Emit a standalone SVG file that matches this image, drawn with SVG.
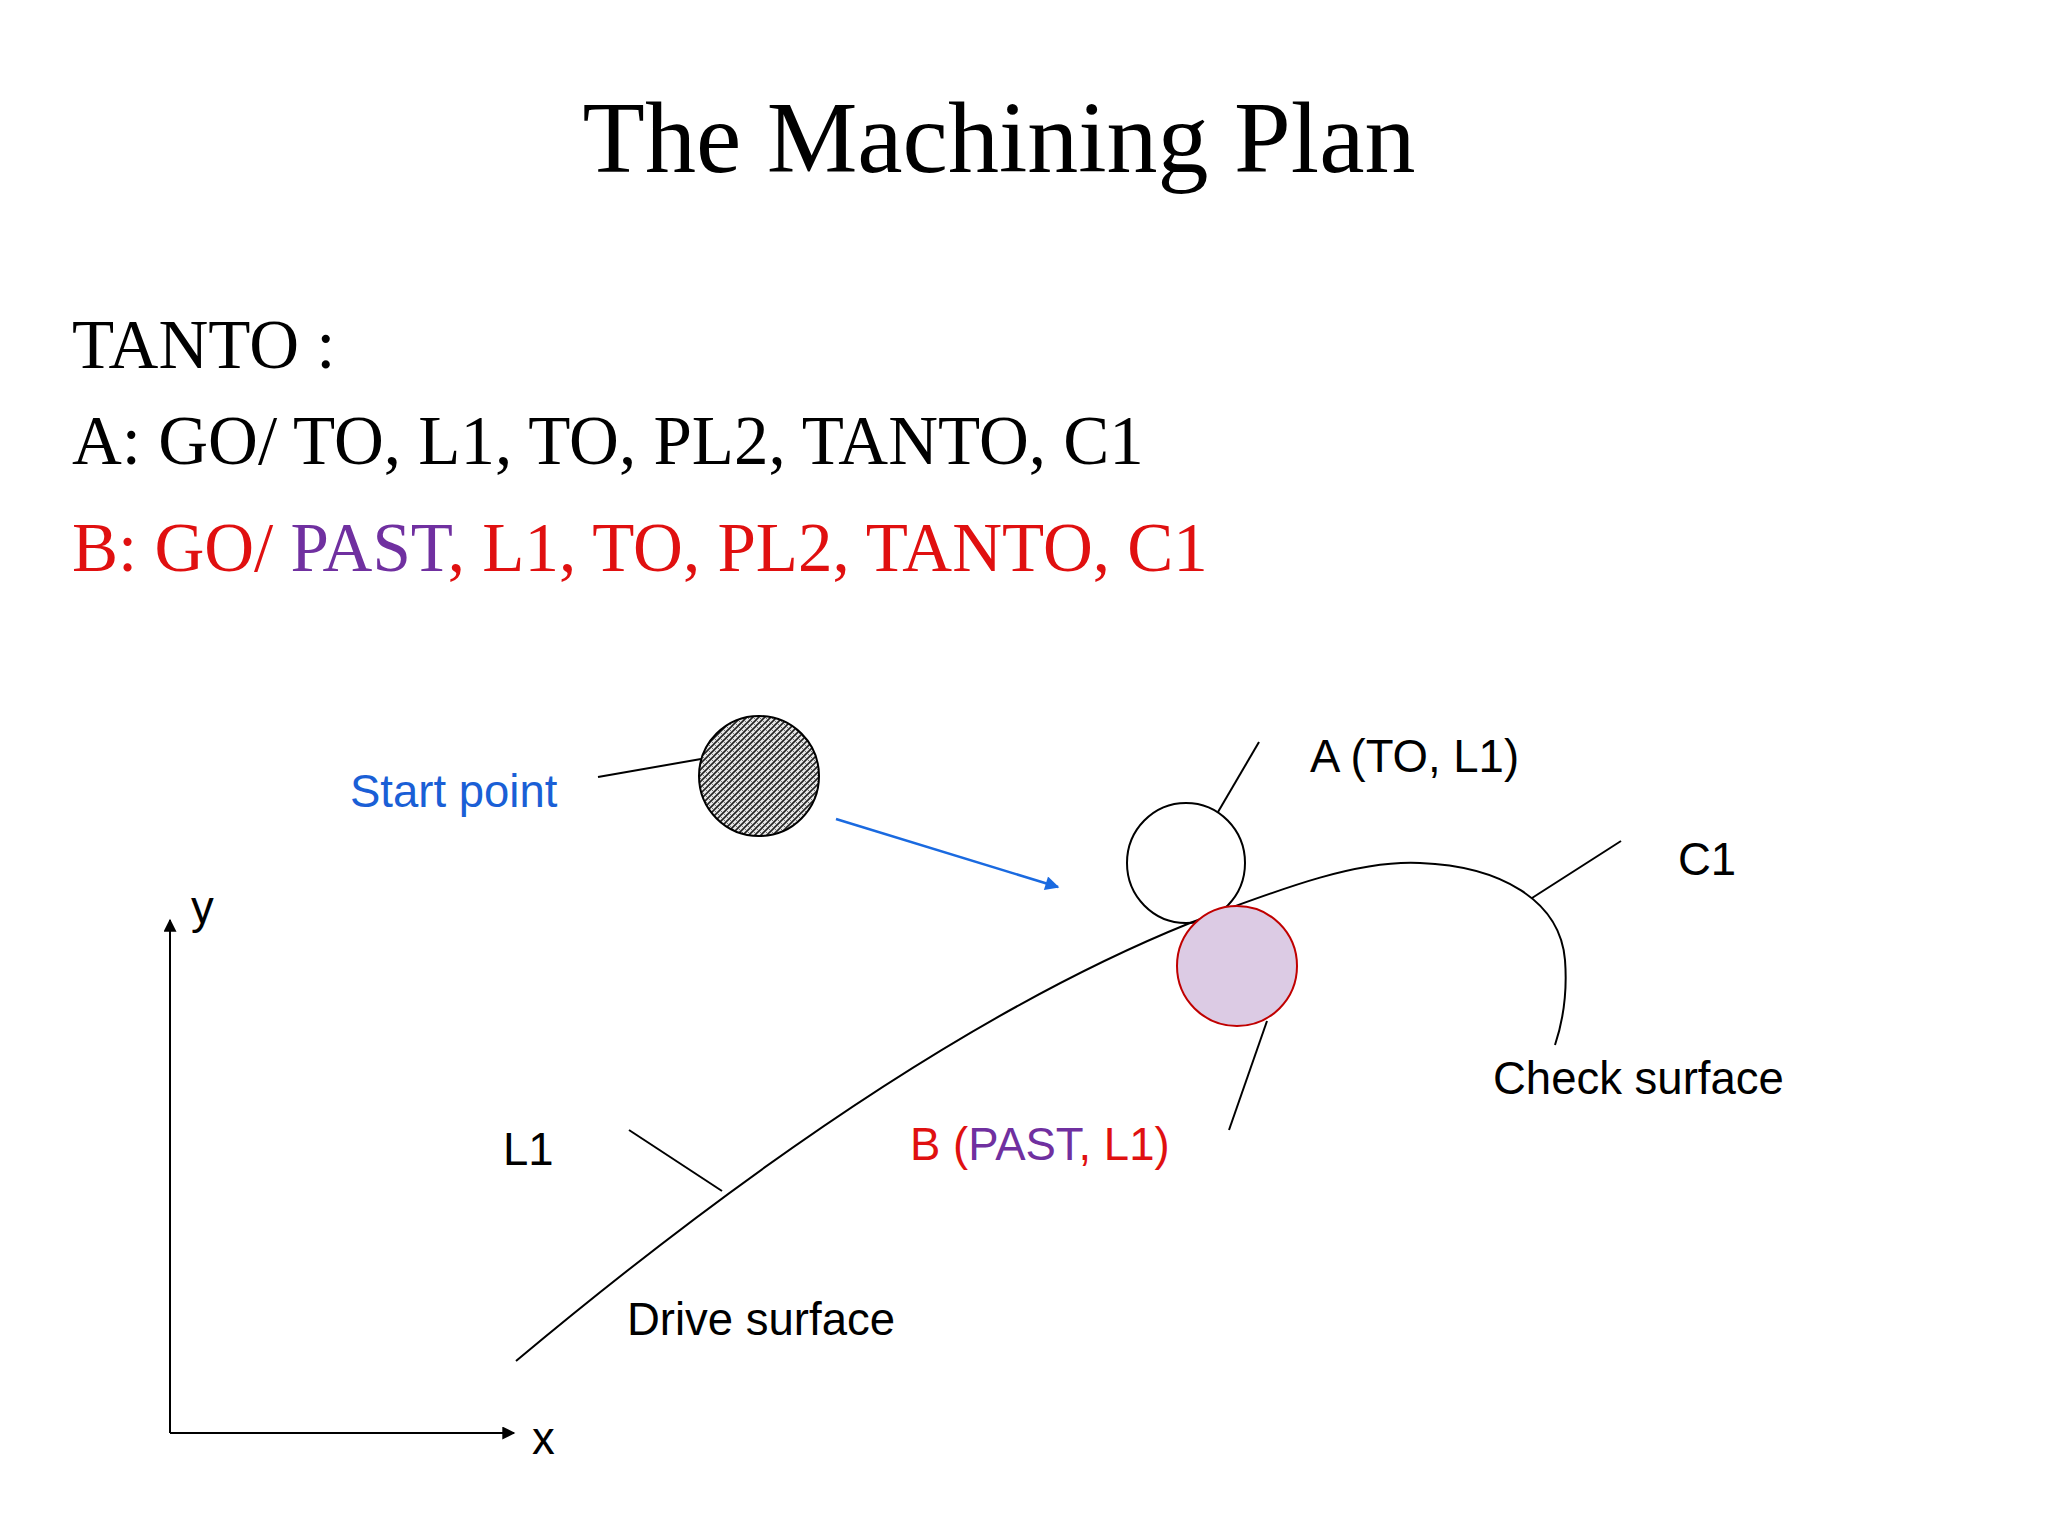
<svg xmlns="http://www.w3.org/2000/svg" width="2048" height="1536" viewBox="0 0 2048 1536">
<style>
.serif{font-family:"Liberation Serif","Times New Roman",serif}
.sans{font-family:"Liberation Sans",Arial,sans-serif;font-size:45.5px}
.ln{stroke:#000;stroke-width:2;fill:none}
</style>
<defs>
<pattern id="hatch" width="6" height="6" patternUnits="userSpaceOnUse">
<rect width="6" height="6" fill="#e8e8e8"/>
<path d="M0,6 L6,0 M-1,1 L1,-1 M5,7 L7,5" stroke="#222" stroke-width="1.6"/>
<path d="M0,0 L6,6" stroke="#555" stroke-width="0.8"/>
</pattern>
<marker id="abl" viewBox="0 0 10 10" refX="9" refY="5" markerWidth="20" markerHeight="14" orient="auto" markerUnits="userSpaceOnUse"><path d="M0,0 L10,5 L0,10 z" fill="#1a6ae0"/></marker>
<marker id="abk" viewBox="0 0 10 10" refX="9" refY="5" markerWidth="16" markerHeight="13" orient="auto" markerUnits="userSpaceOnUse"><path d="M0,0 L10,5 L0,10 z" fill="#000"/></marker>
</defs>
<rect width="2048" height="1536" fill="#fff"/>
<text class="serif" x="999" y="172" font-size="102" text-anchor="middle">The Machining Plan</text>
<text class="serif" x="72" y="368" font-size="69">TANTO :</text>
<text class="serif" x="72" y="464" font-size="69">A: GO/ TO, L1, TO, PL2, TANTO, C1</text>
<text class="serif" x="72" y="571" font-size="69" fill="#e01010">B: GO/ <tspan fill="#7030a0">PAST</tspan>, L1, TO, PL2, TANTO, C1</text>

<g id="connectors">
<path id="drive-surface" class="ln" d="M516,1361 Q900,1040 1190,923 C1290,885 1360,860 1420,863 C1500,866 1560,900 1565,960 C1568,1000 1560,1030 1555,1045"/>
<line class="ln" x1="598" y1="777" x2="701" y2="759"/>
<line x1="836" y1="819" x2="1058" y2="887" stroke="#1a6ae0" stroke-width="2.5" marker-end="url(#abl)"/>
<line class="ln" x1="1218" y1="812" x2="1259" y2="742"/>
<line class="ln" x1="1267" y1="1021" x2="1229" y2="1130"/>
<line class="ln" x1="629" y1="1130" x2="722" y2="1191"/>
<line class="ln" x1="1621" y1="841" x2="1532" y2="898"/>
<line class="ln" x1="170" y1="1433" x2="170" y2="920" marker-end="url(#abk)"/>
<line class="ln" x1="170" y1="1433" x2="514" y2="1433" marker-end="url(#abk)"/>
</g>
<g id="start">
<circle cx="759" cy="776" r="60" fill="url(#hatch)" stroke="#000" stroke-width="2"/>
<text class="sans" x="350" y="807" fill="#1a5fd6">Start point</text>
</g>
<g id="toolA">
<ellipse cx="1186" cy="863" rx="59" ry="60" fill="none" stroke="#000" stroke-width="2"/>
<text class="sans" x="1310" y="772">A (TO, L1)</text>
</g>
<g id="toolB">
<circle cx="1237" cy="966" r="60" fill="#dccbe4" stroke="#c00000" stroke-width="2"/>
<text class="sans" x="910" y="1160" fill="#e01010">B (<tspan fill="#7030a0">PAST</tspan>, L1)</text>
</g>
<g id="labels">
<text class="sans" x="1678" y="875">C1</text>
<text class="sans" x="1493" y="1094">Check surface</text>
<text class="sans" x="503" y="1165">L1</text>
<text class="sans" x="627" y="1335">Drive surface</text>
<text class="sans" x="191" y="923">y</text>
<text class="sans" x="532" y="1454">x</text>
</g>
</svg>
